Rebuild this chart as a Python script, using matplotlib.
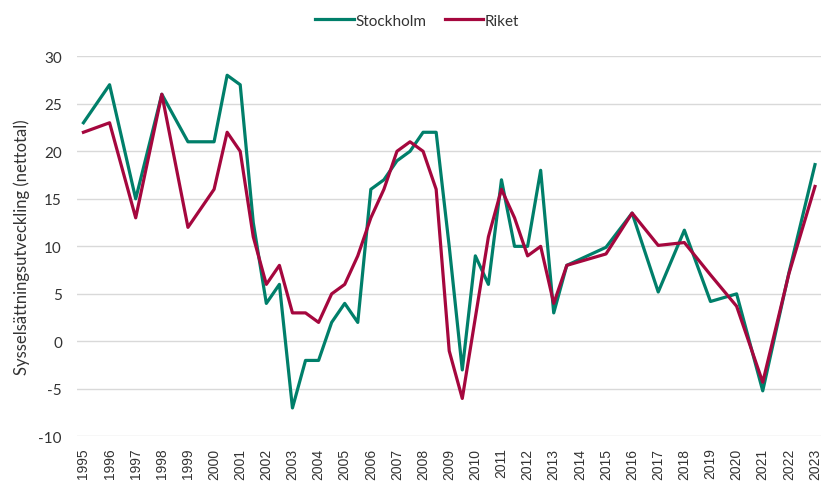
import matplotlib
matplotlib.use('Agg')
import matplotlib.pyplot as plt

# x positions in (fractional) years, half-year points from 2000 to 2013
years_sthlm = [1995, 1996, 1997, 1998, 1999, 2000, 2000.5, 2001, 2001.5, 2002, 2002.5,
               2003, 2003.5, 2004, 2004.5, 2005, 2005.5, 2006, 2006.5, 2007, 2007.5,
               2008, 2008.5, 2009, 2009.5, 2010, 2010.5, 2011, 2011.5, 2012, 2012.5,
               2013, 2013.5, 2015, 2016, 2017, 2018, 2019, 2020, 2021, 2022, 2023]
stockholm = [23, 27, 15, 26, 21, 21, 28, 27, 12.5, 4, 6,
             -7, -2, -2, 2, 4, 2, 16, 17, 19, 20,
             22, 22, 10, -3, 9, 6, 17, 10, 10, 18,
             3, 8, 9.9, 13.5, 5.2, 11.7, 4.2, 5.0, -5.2, 7.2, 18.6]

years_riket = years_sthlm
riket = [22, 23, 13, 26, 12, 16, 22, 20, 11, 6, 8,
         3, 3, 2, 5, 6, 9, 13, 16, 20, 21,
         20, 16, -1, -6, 2.5, 11, 16, 13, 9, 10,
         4, 8, 9.2, 13.5, 10.1, 10.4, 7.0, 3.7, -4.3, 7.1, 16.3]

tick_years = list(range(1995, 2024))
y_ticks = list(range(-10, 31, 5))

green = '#007F6A'
red = '#A5073E'

fig = plt.figure(figsize=(8.21, 4.85), dpi=100)
ax = fig.add_axes([0.094, 0.098, 0.906, 0.784])

ax.plot(years_sthlm, stockholm, color=green, lw=2.3, label='Stockholm', zorder=3)
ax.plot(years_riket, riket, color=red, lw=2.3, label='Riket', zorder=4)

ax.set_xlim(1994.76, 2023.23)
ax.set_ylim(-10, 30)
ax.set_yticks(y_ticks)
ax.set_yticklabels([str(v) for v in y_ticks], fontsize=11, color='#333333', family='Lato')
ax.set_xticks(tick_years)
ax.set_xticklabels([str(y) for y in tick_years], rotation=90, fontsize=10,
                   color='#333333', family='Liberation Sans')
ax.tick_params(length=0)
ax.tick_params(axis='y', pad=11)
ax.tick_params(axis='x', pad=8)
ax.grid(axis='y', color='#d9d9d9', lw=1)
ax.set_axisbelow(True)
for s in ax.spines.values():
    s.set_visible(False)

ax.set_ylabel('Sysselsättningsutveckling (nettotal)', fontsize=12, color='#333333',
              family='Lato', labelpad=6)

leg = fig.legend(loc='center', bbox_to_anchor=(0.508, 0.955), ncol=2, frameon=False,
                 prop={'family': 'Lato', 'size': 11}, handlelength=2.5,
                 handletextpad=0.1, columnspacing=1.2)
for t in leg.get_texts():
    t.set_color('#333333')

fig.savefig('out.png', dpi=100)
